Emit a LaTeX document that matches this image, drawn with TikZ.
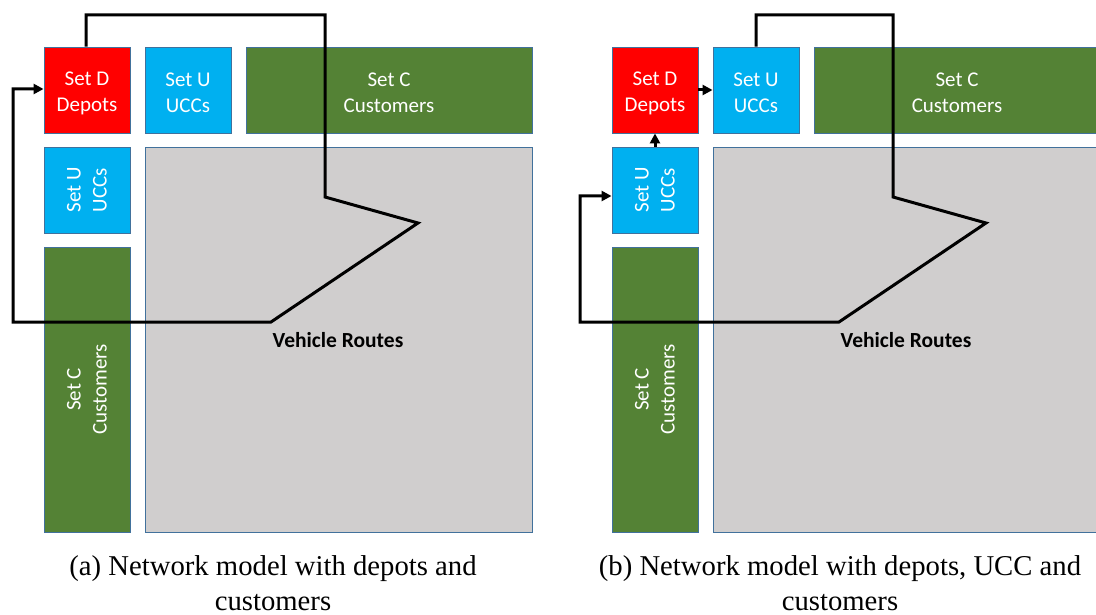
\documentclass[tikz,border=0pt]{standalone}
\usepackage{fontspec}
\setmainfont{Liberation Serif}
\newfontfamily\boxfont{Carlito}
\usetikzlibrary{arrows.meta}

\definecolor{depotred}{HTML}{FF0000}
\definecolor{uccblue}{HTML}{00B0F0}
\definecolor{custgreen}{HTML}{548235}
\definecolor{routegray}{HTML}{D0CECE}
\definecolor{edgeblue}{HTML}{41719C}

\begin{document}
\begin{tikzpicture}[x=1pt,y=-1pt,
  setbox/.style={draw=edgeblue,line width=0.9pt,inner sep=0pt},
  boxtext/.style={text=white,align=center,inner sep=0pt,
    font=\boxfont\fontsize{21}{26}\selectfont},
  toptext/.style={boxtext,yshift=-3pt},
  depot/.style={setbox,fill=depotred,minimum width=86pt,minimum height=86pt},
  ucc/.style={setbox,fill=uccblue,minimum width=86pt,minimum height=86pt},
  cust/.style={setbox,fill=custgreen},
  area/.style={setbox,fill=routegray},
  sidetext/.style={boxtext,rotate=90},
  areatext/.style={font=\boxfont\bfseries\fontsize{21.5}{24}\selectfont,inner sep=0pt},
  route/.style={line width=3pt,line join=miter,black},
  routearrow/.style={route,-{Triangle[length=10pt,width=10pt]}},
  caption/.style={align=center,font=\fontsize{28.7}{35}\selectfont,inner sep=0pt}]

\useasboundingbox (0,0) rectangle (1096,615);
\clip (0,0) rectangle (1096,615);

% ---------- (a) depots and customers ----------
\node[depot] (Da) at (87,90) {};
\node[toptext] (DaT) at (Da) {Set D\\Depots};
\node[ucc] (Ua) at (188,90) {};
\node[toptext] (UaT) at (Ua) {Set U\\UCCs};
\node[cust,minimum width=286pt,minimum height=86pt] (Ca) at (389,90) {};
\node[toptext] (CaT) at (Ca) {Set C\\Customers};
\node[ucc] (Usa) at (87,190) {};
\node[sidetext] (UsaT) at (Usa) {Set U\\UCCs};
\node[cust,minimum width=86pt,minimum height=285pt] (Csa) at (87,389.5) {};
\node[sidetext] (CsaT) at (Csa) {Set C\\Customers};
\node[area,minimum width=387pt,minimum height=385pt] (Ra) at (338.5,339.5) {};
\node[areatext] (RaT) at (338,340) {Vehicle Routes};

\coordinate (a1) at (86,15);
\coordinate (a2) at (325,15);
\coordinate (a3) at (325,197);
\coordinate (a4) at (418,223);
\coordinate (a5) at (271,322);
\coordinate (a6) at (13,322);
\coordinate (a7) at (13,89);
\draw[routearrow] (Da.north -| a1) -- (a1) -- (a2) -- (a3) -- (a4) -- (a5)
  -- (a6) -- (a7) -- (a7 -| Da.west);

\node[caption] (capA) at (273,583) {(a) Network model with depots and\\customers};

% ---------- (b) depots, UCC and customers ----------
\node[depot] (Db) at (655,90) {};
\node[toptext] (DbT) at (Db) {Set D\\Depots};
\node[ucc] (Ub) at (756,90) {};
\node[toptext] (UbT) at (Ub) {Set U\\UCCs};
\node[cust,minimum width=286pt,minimum height=86pt] (Cb) at (957,90) {};
\node[toptext] (CbT) at (Cb) {Set C\\Customers};
\node[ucc] (Usb) at (655,190) {};
\node[sidetext] (UsbT) at (Usb) {Set U\\UCCs};
\node[cust,minimum width=86pt,minimum height=285pt] (Csb) at (655,389.5) {};
\node[sidetext] (CsbT) at (Csb) {Set C\\Customers};
\node[area,minimum width=387pt,minimum height=385pt] (Rb) at (906.5,339.5) {};
\node[areatext] (RbT) at (906,340) {Vehicle Routes};

\coordinate (b1) at (756,15);
\coordinate (b2) at (893,15);
\coordinate (b3) at (893,197);
\coordinate (b4) at (986,223);
\coordinate (b5) at (839,322);
\coordinate (b6) at (580,322);
\coordinate (b7) at (580,196);
\draw[routearrow] (Ub.north) -- (b1) -- (b2) -- (b3) -- (b4) -- (b5)
  -- (b6) -- (b7) -- (b7 -| Usb.west);
\draw[routearrow] (Usb.north) -- (Db.south);
\draw[routearrow] (Db.east) -- (Ub.west);

\node[caption] (capB) at (840,583) {(b) Network model with depots, UCC and\\customers};
\end{tikzpicture}
\end{document}
